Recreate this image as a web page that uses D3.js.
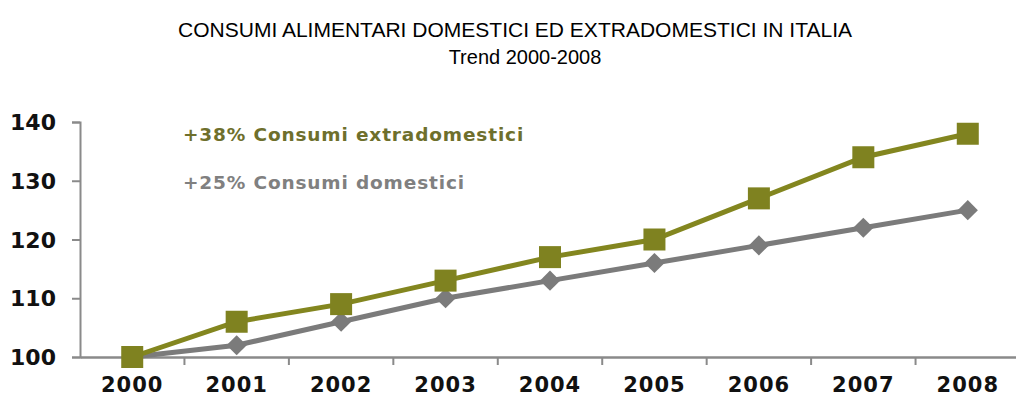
<!DOCTYPE html>
<html>
<head>
    <meta charset="utf-8">
    <style>
        body { margin: 0; background: white; }
        svg { display: block; }
        .title { font-family: 'Liberation Sans', sans-serif; font-size: 20px; fill: #000; }
        .tick text { font-family: 'DejaVu Sans', sans-serif; font-weight: bold; fill: #111; }
        .legend { font-family: 'DejaVu Sans', sans-serif; font-weight: bold; font-size: 18.5px; letter-spacing: 0.85px; }
    </style>
</head>
<body>
<svg width="1016" height="407"></svg>

<script src="https://d3js.org/d3.v7.min.js"></script>
<script>
    // data
    let years = ["2000", "2001", "2002", "2003", "2004", "2005", "2006", "2007", "2008"];
    let extradomestici = [100, 106, 109, 113, 117, 120, 127, 134, 138];
    let domestici = [100, 102, 106, 110, 113, 116, 119, 122, 125];
    let yTicks = [100, 110, 120, 130, 140];

    let svg = d3.select("svg");

    let x = d3.scaleBand()
        .domain(years)
        .range([80, 1020]);

    let y = d3.scaleLinear()
        .domain([100, 140])
        .range([357, 122]);

    // titles (squeezed a bit, the original uses a narrow font)
    svg.append("text").attr("class", "title")
        .attr("x", 515).attr("y", 37).attr("text-anchor", "middle")
        .attr("textLength", 674).attr("lengthAdjust", "spacingAndGlyphs")
        .text("CONSUMI ALIMENTARI DOMESTICI ED EXTRADOMESTICI IN ITALIA");
    svg.append("text").attr("class", "title")
        .attr("x", 525).attr("y", 64).attr("text-anchor", "middle")
        .text("Trend 2000-2008");

    // y axis
    let yAxis = svg.append("g")
        .attr("transform", "translate(80,0)")
        .call(d3.axisLeft(y).tickValues(yTicks).tickSize(8).tickPadding(16));
    yAxis.selectAll("line, path").attr("stroke", "#8a8a8a").attr("stroke-width", 2);
    yAxis.selectAll("text").style("font-size", "22px").attr("dy", "0.35em");

    // x axis
    let xAxis = svg.append("g")
        .attr("transform", "translate(0,357)")
        .call(d3.axisBottom(x).tickSize(0).tickPadding(20));
    xAxis.select("path").attr("stroke", "#8a8a8a").attr("stroke-width", 2.5);
    xAxis.selectAll("text").style("font-size", "21px").style("letter-spacing", "1px");
    // tick marks sit between categories
    xAxis.selectAll(".sep")
        .data(years.slice(1))
        .join("line")
        .attr("x1", d => x(d)).attr("x2", d => x(d))
        .attr("y1", 0).attr("y2", 8)
        .attr("stroke", "#8a8a8a").attr("stroke-width", 2);

    let cx = d => x(d) + x.bandwidth() / 2;

    let line = d3.line()
        .x((d, i) => cx(years[i]))
        .y(d => y(d));

    // gray series (domestici)
    svg.append("path")
        .datum(domestici)
        .attr("d", line)
        .attr("fill", "none")
        .attr("stroke", "#7b7b7b")
        .attr("stroke-width", 5);
    svg.selectAll(".dia")
        .data(domestici)
        .join("path")
        .attr("class", "dia")
        .attr("d", d3.symbol().type(d3.symbolDiamond2).size(260))
        .attr("transform", (d, i) => "translate(" + cx(years[i]) + "," + y(d) + ")")
        .attr("fill", "#7b7b7b");

    // green series (extradomestici)
    svg.append("path")
        .datum(extradomestici)
        .attr("d", line)
        .attr("fill", "none")
        .attr("stroke", "#83861f")
        .attr("stroke-width", 5);
    svg.selectAll(".sq")
        .data(extradomestici)
        .join("rect")
        .attr("class", "sq")
        .attr("x", (d, i) => cx(years[i]) - 11)
        .attr("y", d => y(d) - 11)
        .attr("width", 22).attr("height", 22)
        .attr("fill", "#7f8220");

    // legend labels
    svg.append("text").attr("class", "legend")
        .attr("x", 183).attr("y", 141)
        .attr("fill", "#6e6f2c")
        .text("+38% Consumi extradomestici");
    svg.append("text").attr("class", "legend")
        .attr("x", 183).attr("y", 189)
        .attr("fill", "#808080")
        .text("+25% Consumi domestici");
</script>
</body>
</html>
